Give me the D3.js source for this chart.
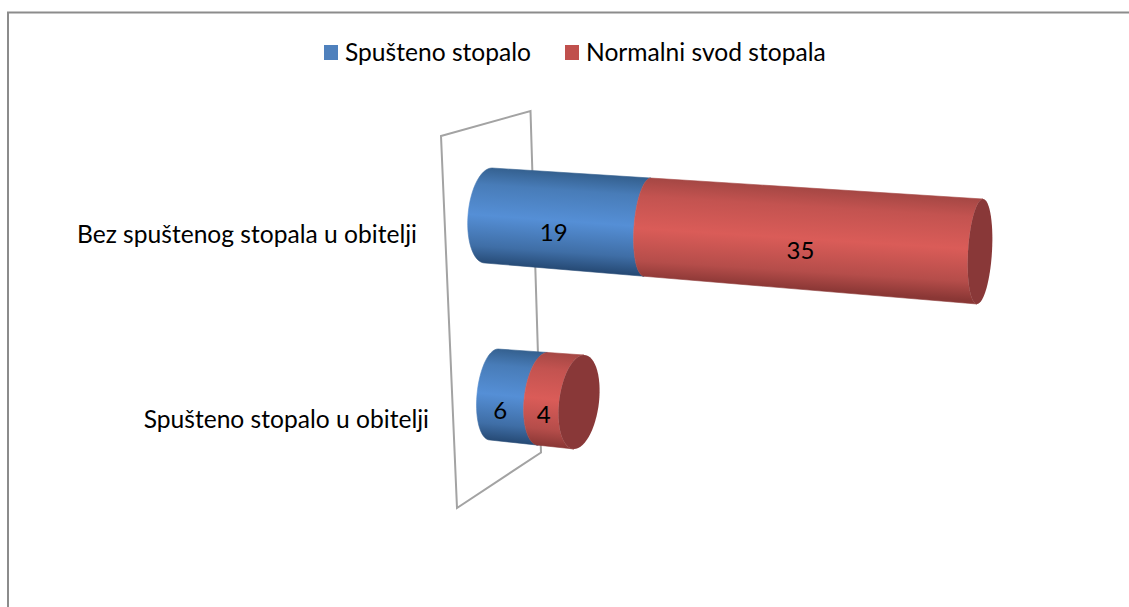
<!DOCTYPE html>
<html>
<head>
<title>Spušteno stopalo</title>
<script src="https://d3js.org/d3.v7.min.js"></script>
<style>
html, body { margin: 0; padding: 0; background: #fff; }
text { font-family: Lato, "Open Sans", sans-serif; fill: #000; }
</style>
</head>
<body>
<div id="chart"></div>
<script>
var categories = ["Bez spuštenog stopala u obitelji", "Spušteno stopalo u obitelji"];
var seriesNames = ["Spušteno stopalo", "Normalni svod stopala"];
var spusteno = [19, 6];
var normalni = [35, 4];
var seriesValues = [spusteno, normalni];

var width = 1129, height = 607;
var colors = ["#4f81bd", "#c0504d"];
var shades = [
  { top: "#34608f", upper: "#487cb8", mid: "#558fd6", lower: "#3f6ea6", low: "#264a75" },
  { top: "#a54744", upper: "#c35350", mid: "#da5c58", lower: "#b54d4a", low: "#8a3735" }
];
var capColor = "#893838";

// the 3d look of each bar: where the cylinder axis runs and how wide it is
var rowLayout = [
  { cx: [488.5, 980], cy: [215.5, 251.5], ry: [47.5, 52.5], rx: [20.5, 12], rxPow: 0.2, tx: [3.5, 3], labelX: 417, labelY: 243, dx: -10, dy: 12 },
  { cx: [494, 579], cy: [394.5, 402], ry: [45.5, 47], rx: [17, 20], rxPow: 1, tx: [4, 5], labelX: 429, labelY: 428, dx: -17, dy: 14.5 }
];

var svg = d3.select("#chart").append("svg")
  .attr("width", width)
  .attr("height", height)
  .style("display", "block");
var defs = svg.append("defs");

// frame, no bottom or right side in the picture
svg.append("path")
  .attr("d", "M8,607V12.5H1129")
  .attr("fill", "none")
  .attr("stroke", "#8c8c8c")
  .attr("stroke-width", 2);

// the wall behind the bars
svg.append("path")
  .attr("d", "M441,136L530.5,111L541,452.5L457,508Z")
  .attr("fill", "none")
  .attr("stroke", "#a3a3a3")
  .attr("stroke-width", 2);

var line = d3.line().x(function(d) { return d[0]; }).y(function(d) { return d[1]; });

function rowScales(row, total) {
  var along = d3.scalePow().exponent(1.08).domain([0, total]).range([0, 1]);
  var wide = d3.scalePow().exponent(row.rxPow).domain([0, total]).range(row.rx);
  return {
    cx: function(v) { return d3.interpolateNumber(row.cx[0], row.cx[1])(along(v)); },
    cy: function(v) { return d3.interpolateNumber(row.cy[0], row.cy[1])(along(v)); },
    ry: function(v) { return d3.interpolateNumber(row.ry[0], row.ry[1])(along(v)); },
    tx: function(v) { return d3.interpolateNumber(row.tx[0], row.tx[1])(along(v)); },
    rx: wide
  };
}

function ringPoint(s, v, angle) {
  return [
    s.cx(v) - s.rx(v) * Math.cos(angle) - s.tx(v) * Math.sin(angle),
    s.cy(v) + s.ry(v) * Math.sin(angle)
  ];
}

var leftHalf = d3.range(-90, 91, 6).map(function(a) { return a * Math.PI / 180; });
var fullRing = d3.range(0, 360, 6).map(function(a) { return a * Math.PI / 180; });

categories.forEach(function(cat, i) {
  var row = rowLayout[i];
  var total = d3.sum(seriesValues, function(s) { return s[i]; });
  var s = rowScales(row, total);
  var start = 0;

  seriesValues.forEach(function(values, k) {
    var v0 = start, v1 = start + values[i];
    var vm = (v0 + v1) / 2;
    var id = "grad" + i + "_" + k;
    var topPt = ringPoint(s, vm, -Math.PI / 2), lowPt = ringPoint(s, vm, Math.PI / 2);

    var g = defs.append("linearGradient").attr("id", id)
      .attr("gradientUnits", "userSpaceOnUse")
      .attr("x1", topPt[0]).attr("y1", topPt[1])
      .attr("x2", lowPt[0]).attr("y2", lowPt[1]);
    g.append("stop").attr("offset", "0%").attr("stop-color", shades[k].top);
    g.append("stop").attr("offset", "18%").attr("stop-color", shades[k].upper);
    g.append("stop").attr("offset", "50%").attr("stop-color", shades[k].mid);
    g.append("stop").attr("offset", "82%").attr("stop-color", shades[k].lower);
    g.append("stop").attr("offset", "100%").attr("stop-color", shades[k].low);

    var pts = leftHalf.map(function(a) { return ringPoint(s, v0, a); })
      .concat(leftHalf.slice().reverse().map(function(a) { return ringPoint(s, v1, a); }));
    svg.append("path")
      .attr("d", line(pts) + "Z")
      .attr("fill", "url(#" + id + ")")
      .attr("stroke", "url(#" + id + ")")
      .attr("stroke-width", 0.6);
    start = v1;
  });

  // end of the cylinder
  svg.append("path")
    .attr("d", line(fullRing.map(function(a) { return ringPoint(s, total, a); })) + "Z")
    .attr("fill", capColor);

  // value labels
  start = 0;
  seriesValues.forEach(function(values) {
    var vm = start + values[i] / 2;
    svg.append("text")
      .attr("x", s.cx(vm) + row.dx)
      .attr("y", s.cy(vm) + row.dy + 8)
      .attr("text-anchor", "middle")
      .style("font-size", "24px")
      .text(values[i]);
    start += values[i];
  });

  svg.append("text")
    .attr("x", row.labelX)
    .attr("y", row.labelY)
    .attr("text-anchor", "end")
    .style("font-size", "24.6px")
    .text(cat);
});

// legend
var legendX = [324, 565];
seriesNames.forEach(function(name, k) {
  svg.append("rect")
    .attr("x", legendX[k]).attr("y", 45)
    .attr("width", 14).attr("height", 15)
    .attr("fill", colors[k]);
  svg.append("text")
    .attr("x", legendX[k] + 21)
    .attr("y", 61)
    .style("font-size", "24.6px")
    .text(name);
});
</script>
</body>
</html>
